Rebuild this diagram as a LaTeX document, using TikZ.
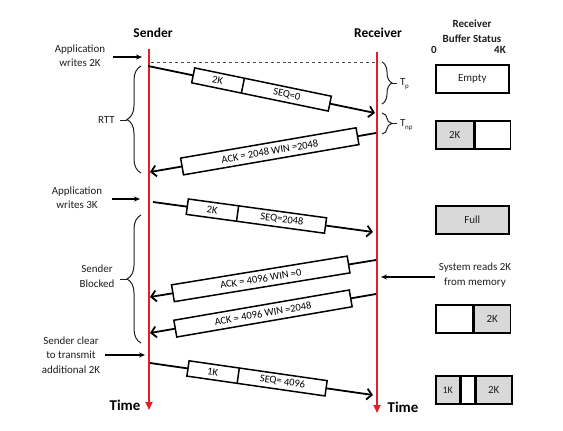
\documentclass[tikz,border=0pt]{standalone}
\usepackage{fontspec}
\setmainfont{Carlito}
\usetikzlibrary{arrows.meta,decorations.pathreplacing,shapes.multipart}
\definecolor{lifered}{RGB}{228,30,38}
\definecolor{bufgray}{RGB}{217,217,217}
\definecolor{txt}{RGB}{30,30,30}
\begin{document}
\begin{tikzpicture}[x=1bp,y=-1bp,
  lbl/.style={font=\fontsize{11}{14.5}\selectfont, align=center, text=txt, inner sep=0pt},
  head/.style={font=\bfseries\fontsize{13.5}{16}\selectfont, inner sep=0pt},
  subhead/.style={font=\bfseries\fontsize{11}{14.5}\selectfont, align=center, inner sep=0pt, text=txt},
  timelbl/.style={font=\bfseries\fontsize{15}{17}\selectfont, inner sep=0pt},
  lifeline/.style={draw=lifered, line width=2.2bp, -{Triangle[length=8bp,width=7bp]}},
  msg/.style={line width=1.8bp, -{Straight Barb[length=5bp,width=11bp]}},
  databox/.style={draw, line width=1.5bp, fill=white, rectangle split, rectangle split horizontal, rectangle split parts=2, inner xsep=0pt, inner ysep=3.5bp, sloped, font=\fontsize{10.5}{12}\selectfont},
  ackbox/.style={draw, line width=1.5bp, fill=white, minimum width=178bp, minimum height=17bp, inner sep=0pt, sloped, font=\fontsize{10.5}{12}\selectfont},
  pointer/.style={line width=1.1bp, -{Stealth[length=6bp,width=5bp]}},
  bracel/.style={decorate, decoration={brace, amplitude=14bp}, line width=1bp, draw=txt},
  bracer/.style={decorate, decoration={brace, amplitude=10bp}, line width=1bp, draw=txt},
  bufcell/.style={draw, line width=1.5bp, minimum height=28bp, inner sep=0pt, anchor=west, font=\fontsize{11}{13}\selectfont, text=txt},
]
\useasboundingbox (0,0) rectangle (563,430);

% headers
\node[head] (hs) at (153,33) {Sender};
\node[head] (hr) at (378,33) {Receiver};
\node[subhead] (hb) at (472,31) {Receiver\\Buffer Status};
\node[subhead] (h0) at (434,50) {0};
\node[subhead] (h4) at (500,50) {4K};

% lifelines
\coordinate (st) at (149,49);
\coordinate (sb) at (149,410);
\coordinate (rt) at (377,52);
\coordinate (rb) at (377,413);
\draw[lifeline] (st) -- (sb);
\draw[lifeline] (rt) -- (rb);
\node[timelbl] (tl) at (125,405) {Time};
\node[timelbl] (tr) at (403,407) {Time};

% dashed reference
\coordinate (d1) at (151,62);
\coordinate (d2) at (376,62);
\draw[dashed, line width=1bp, draw=black!70] (d1) -- (d2);

% message endpoints
\coordinate (s1) at (148,66);  \coordinate (r1) at (375,113);
\coordinate (r2) at (376,133); \coordinate (s2) at (150,172);
\coordinate (s3) at (153,202); \coordinate (r3) at (373,232);
\coordinate (r4) at (376,260); \coordinate (s4) at (150,297);
\coordinate (r5) at (376,294); \coordinate (s5) at (150,333);
\coordinate (s6) at (150,363); \coordinate (r6) at (373,395);

\draw[msg] (s1) -- node[databox, pos=0.5] (m1) {\makebox[50bp]{2K}\nodepart{two}\makebox[88bp]{SEQ=0}} (r1);
\draw[msg] (r2) -- node[ackbox, pos=0.47] (m2) {ACK = 2048 WIN =2048} (s2);
\draw[msg] (s3) -- node[databox, pos=0.47] (m3) {\makebox[50bp]{2K}\nodepart{two}\makebox[88bp]{SEQ=2048}} (r3);
\draw[msg] (r4) -- node[ackbox, pos=0.51] (m4) {ACK = 4096 WIN =0} (s4);
\draw[msg] (r5) -- node[ackbox, pos=0.5] (m5) {ACK = 4096 WIN =2048} (s5);
\draw[msg] (s6) -- node[databox, pos=0.48] (m6) {\makebox[50bp]{1K}\nodepart{two}\makebox[88bp]{SEQ= 4096}} (r6);

% left annotations
\node[lbl] (a1) at (80,56) {Application\\writes 2K};
\coordinate (a1s) at (113,57); \coordinate (a1e) at (142,57);
\draw[pointer] (a1s) -- (a1e);
\node[lbl] (a2) at (77,198) {Application\\writes 3K};
\coordinate (a2s) at (112,199); \coordinate (a2e) at (140,199);
\draw[pointer] (a2s) -- (a2e);
\node[lbl] (a3) at (71,355) {Sender clear\\to transmit\\additional 2K};
\coordinate (a3s) at (105,355); \coordinate (a3e) at (145,355);
\draw[pointer] (a3s) -- (a3e);

% braces left
\draw[bracel] (141,173) -- (141,66);
\draw[line width=1bp, draw=txt] (127,120) -- (120,120);
\node[lbl, anchor=east] (rtt) at (115,120) {RTT};
\draw[bracel] (141,343) -- (141,215);
\draw[line width=1bp, draw=txt] (127,279) -- (120,279);
\node[lbl] (sbk) at (97,276) {Sender\\Blocked};

% braces right
\draw[bracer] (382,62) -- (382,104);
\draw[line width=1bp, draw=txt] (392,83) -- (397,83);
\node[lbl, anchor=west] (tp) at (400,84) {T\kern-0.3bp\raisebox{-2.5bp}{\fontsize{7}{8}\selectfont p}};
\draw[bracer] (382,113) -- (382,134);
\draw[line width=1bp, draw=txt] (392,123.5) -- (397,123.5);
\node[lbl, anchor=west] (tnp) at (400,125) {T\kern-0.3bp\raisebox{-2.5bp}{\fontsize{7}{8}\selectfont np}};

% system reads
\node[lbl] (sys) at (475,275) {System reads 2K\\from memory};
\coordinate (syss) at (435,277); \coordinate (syse) at (381,277);
\draw[pointer] (syss) -- (syse);

% buffer boxes
\node[bufcell, minimum width=73bp] (b1) at (435,79) {Empty};
\node[bufcell, minimum width=38bp, fill=bufgray] (b2a) at (435,135) {2K};
\node[bufcell, minimum width=35bp] (b2b) at (b2a.east) {};
\node[bufcell, minimum width=73bp, fill=bufgray] (b3) at (435,220) {Full};
\node[bufcell, minimum width=37bp] (b4a) at (435,319) {};
\node[bufcell, minimum width=36bp, fill=bufgray] (b4b) at (b4a.east) {2K};
\node[bufcell, minimum width=24bp, fill=bufgray, font=\fontsize{10}{12}\selectfont] (b5a) at (435,390) {1K};
\node[bufcell, minimum width=13bp] (b5b) at (b5a.east) {};
\node[bufcell, minimum width=36bp, fill=bufgray] (b5c) at (b5b.east) {2K};
\end{tikzpicture}
\end{document}
